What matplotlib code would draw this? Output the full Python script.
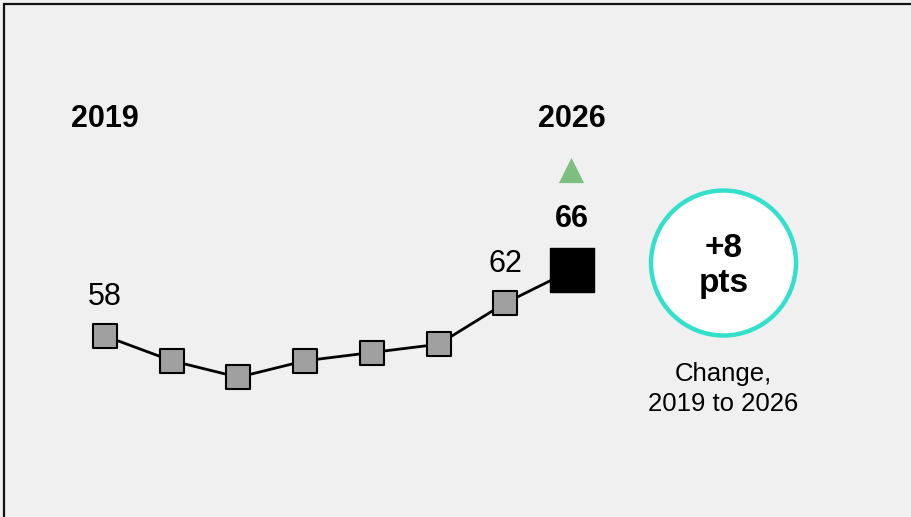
import matplotlib
matplotlib.use("Agg")
import matplotlib.pyplot as plt
from matplotlib.patches import Circle
from matplotlib.lines import Line2D

plt.rcParams['font.family'] = ['Liberation Sans', 'DejaVu Sans']

years = [2019, 2020, 2021, 2022, 2023, 2024, 2025, 2026]
values = [58, 55, 53, 55, 56, 57, 62, 66]
change_label = "+8\npts"
change_caption = "Change,\n2019 to 2026"

W, H, DPI = 912, 517, 100
fig = plt.figure(figsize=(W / DPI, H / DPI), dpi=DPI)
fig.patch.set_facecolor('#f0f0f0')
ax = fig.add_axes([0, 0, 1, 1])
ax.set_facecolor('#f0f0f0')
ax.axis('off')

x = list(range(len(years)))
ax.set_xlim(-1.574, 12.097)
ax.set_ylim(36.06, 98.73)

ax.plot(x, values, color='black', lw=2.0, zorder=1)
ax.scatter(x[:-1], values[:-1], marker='s', s=310, facecolor='#a0a0a0',
           edgecolor='black', linewidth=1.5, zorder=2)
ax.scatter([x[-1]], [values[-1]], marker='s', s=980, facecolor='black',
           edgecolor='black', linewidth=1, zorder=3)

# value labels
ax.annotate(str(values[0]), (x[0], values[0]), xytext=(0, 28), textcoords='offset points',
            ha='center', va='center', fontsize=22)
ax.annotate(str(values[-2]), (x[-2], values[-2]), xytext=(0, 28), textcoords='offset points',
            ha='center', va='center', fontsize=22)
ax.annotate(str(values[-1]), (x[-1], values[-1]), xytext=(0, 37), textcoords='offset points',
            ha='center', va='center', fontsize=22, fontweight='bold')
# up triangle
tri_y = 98.73 - 170 / 8.25
ax.scatter([x[-1] - 0.015], [tri_y], marker='^', s=330, color='#7dbf7f', linewidth=0, zorder=3)

# year headers
year_y = 98.73 - 119 / 8.25
ax.text(x[0], year_y, str(years[0]), ha='center', va='center', fontsize=22, fontweight='bold')
ax.text(x[-1], year_y, str(years[-1]), ha='center', va='center', fontsize=22, fontweight='bold')

# change circle (inches)
cx, cy, r = 7.235, (H - 263) / DPI, 0.725
circ = Circle((cx, cy), r, transform=fig.dpi_scale_trans, facecolor='white',
              edgecolor='#33e0cc', linewidth=3.2, zorder=4)
ax.add_patch(circ)
fig.text(cx * DPI / W, (H - 266) / H, change_label, ha='center', va='center',
         fontsize=24, fontweight='bold', linespacing=1.15, zorder=5)
fig.text(cx * DPI / W, (H - 389) / H, change_caption, ha='center', va='center',
         fontsize=18.5, linespacing=1.3)

# border (top and left)
fig.add_artist(Line2D([4 / W, 1], [1 - 4 / H, 1 - 4 / H], transform=fig.transFigure,
                      color='#111111', lw=1.6, solid_capstyle='butt'))
fig.add_artist(Line2D([4 / W, 4 / W], [0, 1 - 3 / H], transform=fig.transFigure,
                      color='#111111', lw=1.6, solid_capstyle='butt'))

fig.savefig('out.png', dpi=DPI, facecolor=fig.get_facecolor())
